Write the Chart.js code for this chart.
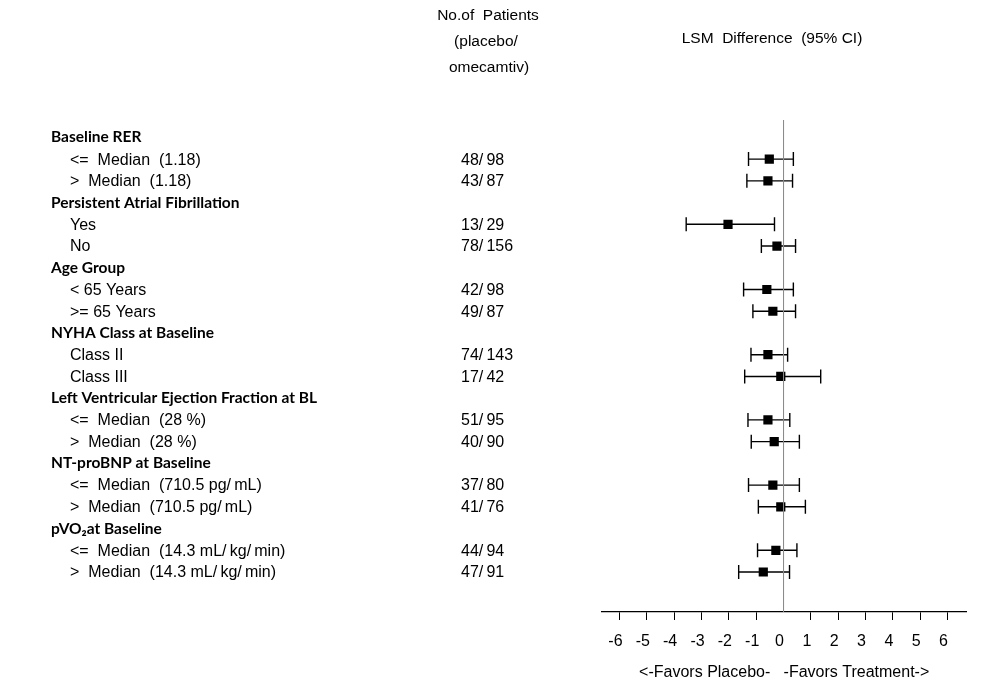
<!DOCTYPE html>
<html>
<head>
<meta charset="utf-8">
<script src="https://cdn.jsdelivr.net/npm/chart.js@4.4.1/dist/chart.umd.min.js"></script>
<style>
  html, body { margin: 0; padding: 0; background: #fff; }
  #wrap { width: 989px; height: 696px; position: relative; }
</style>
</head>
<body>
<div id="wrap"><canvas id="forest"></canvas></div>
<script>
// ===============================
// DATA
// ===============================
const groupNames = [
    "Baseline RER",
    "Persistent Atrial Fibrillation",
    "Age Group",
    "NYHA Class at Baseline",
    "Left Ventricular Ejection Fraction at BL",
    "NT-proBNP at Baseline",
    "pVO\u2082at Baseline"
];

const subgroupLabels = [
    "<=  Median  (1.18)", ">  Median  (1.18)",
    "Yes", "No",
    "< 65 Years", ">= 65 Years",
    "Class II", "Class III",
    "<=  Median  (28 %)", ">  Median  (28 %)",
    "<=  Median  (710.5 pg/\u2009mL)", ">  Median  (710.5 pg/\u2009mL)",
    "<=  Median  (14.3 mL/\u2009kg/\u2009min)", ">  Median  (14.3 mL/\u2009kg/\u2009min)"
];

const patientCounts = [
    "48/\u200998", "43/\u200987",
    "13/\u200929", "78/\u2009156",
    "42/\u200998", "49/\u200987",
    "74/\u2009143", "17/\u200942",
    "51/\u200995", "40/\u200990",
    "37/\u200980", "41/\u200976",
    "44/\u200994", "47/\u200991"
];

const lsmDiff = [-0.52, -0.57, -2.03, -0.24, -0.61, -0.39, -0.57, -0.10, -0.57, -0.34, -0.39, -0.10, -0.28, -0.74];
const ciLower = [-1.28, -1.34, -3.56, -0.81, -1.46, -1.12, -1.19, -1.42, -1.30, -1.18, -1.28, -0.92, -0.95, -1.64];
const ciUpper = [0.36, 0.33, -0.33, 0.44, 0.36, 0.44, 0.15, 1.36, 0.23, 0.58, 0.58, 0.80, 0.49, 0.22];

const xTicks = [-6, -5, -4, -3, -2, -1, 0, 1, 2, 3, 4, 5, 6];
const xTitle = "<-Favors Placebo-   -Favors Treatment->";

// ===============================
// ROW LAYOUT (header row, then two subgroup rows)
// ===============================
function subgroupRow(i) {
    return Math.floor(i / 2) * 3 + 1 + (i % 2);
}
const yMin = -0.8;
const yMax = 21.84;

// ===============================
// DATASETS
// ===============================
const datasets = [];

// zero reference line
datasets.push({
    data: [{ x: 0, y: yMin }, { x: 0, y: yMax }],
    showLine: true,
    borderColor: "#8c8c8c",
    borderWidth: 1,
    pointRadius: 0
});

// confidence intervals with end caps
ciLower.forEach((lo, i) => {
    datasets.push({
        data: [{ x: lo, y: subgroupRow(i) }, { x: ciUpper[i], y: subgroupRow(i) }],
        showLine: true,
        borderColor: "#000",
        borderWidth: 1.4,
        pointStyle: "line",
        rotation: 90,
        pointRadius: 7,
        pointBorderColor: "#000",
        pointBorderWidth: 1.4
    });
});

// point estimates
datasets.push({
    data: lsmDiff.map((v, i) => ({ x: v, y: subgroupRow(i) })),
    showLine: false,
    pointStyle: "rect",
    pointRadius: 6.5,
    backgroundColor: "#000",
    borderColor: "#000",
    borderWidth: 0
});

// ===============================
// TEXT COLUMNS PLUGIN
// ===============================
const textColumns = {
    id: "textColumns",
    afterDraw(chart) {
        const ctx = chart.ctx;
        const y = chart.scales.y;
        ctx.save();
        ctx.fillStyle = "#000";
        ctx.textBaseline = "middle";

        // column headers
        ctx.font = '15.5px "Liberation Sans"';
        ctx.textAlign = "center";
        ctx.fillText("No.of  Patients", 488, 16);
        ctx.fillText("(placebo/", 486, 42);
        ctx.fillText("omecamtiv)", 489, 68);
        ctx.fillText("LSM  Difference  (95% CI)", 772, 39);

        ctx.textAlign = "left";
        groupNames.forEach((name, g) => {
            ctx.font = 'bold 15.5px Lato';
            ctx.fillText(name, 51, y.getPixelForValue(g * 3));
        });
        subgroupLabels.forEach((label, i) => {
            const py = y.getPixelForValue(subgroupRow(i));
            ctx.font = '16px "Liberation Sans"';
            ctx.fillText(label, 70, py + 1);
            ctx.fillText(patientCounts[i], 461, py + 1);
        });
        ctx.restore();
    }
};

// ===============================
// CHART
// ===============================
new Chart(document.getElementById("forest").getContext("2d"), {
    type: "scatter",
    data: { datasets: datasets },
    options: {
        responsive: true,
        maintainAspectRatio: false,
        animation: false,
        layout: {
            padding: { left: 601.7, right: 22.3, top: 120, bottom: 0 }
        },
        plugins: {
            legend: { display: false },
            tooltip: { enabled: false }
        },
        scales: {
            x: {
                min: -6.65,
                max: 6.7,
                afterBuildTicks: scale => {
                    scale.ticks = xTicks.map(v => ({ value: v }));
                },
                afterFit: scale => {
                    scale.height = 84;
                },
                border: { color: "#000", width: 1.3 },
                grid: {
                    drawOnChartArea: false,
                    drawTicks: true,
                    tickLength: 8,
                    color: ctx => (ctx.tick && ctx.tick.value === 0 ? "rgba(0,0,0,0)" : "#000")
                },
                ticks: {
                    color: "#000",
                    font: { family: "Liberation Sans", size: 16 },
                    padding: 12,
                    labelOffset: -4,
                    maxRotation: 0,
                    autoSkip: false
                },
                title: {
                    display: true,
                    text: xTitle,
                    color: "#000",
                    font: { family: "Liberation Sans", size: 16 },
                    padding: { top: 0, bottom: 14 }
                }
            },
            y: {
                display: false,
                reverse: true,
                min: yMin,
                max: yMax
            }
        }
    },
    plugins: [textColumns]
});
</script>
</body>
</html>
